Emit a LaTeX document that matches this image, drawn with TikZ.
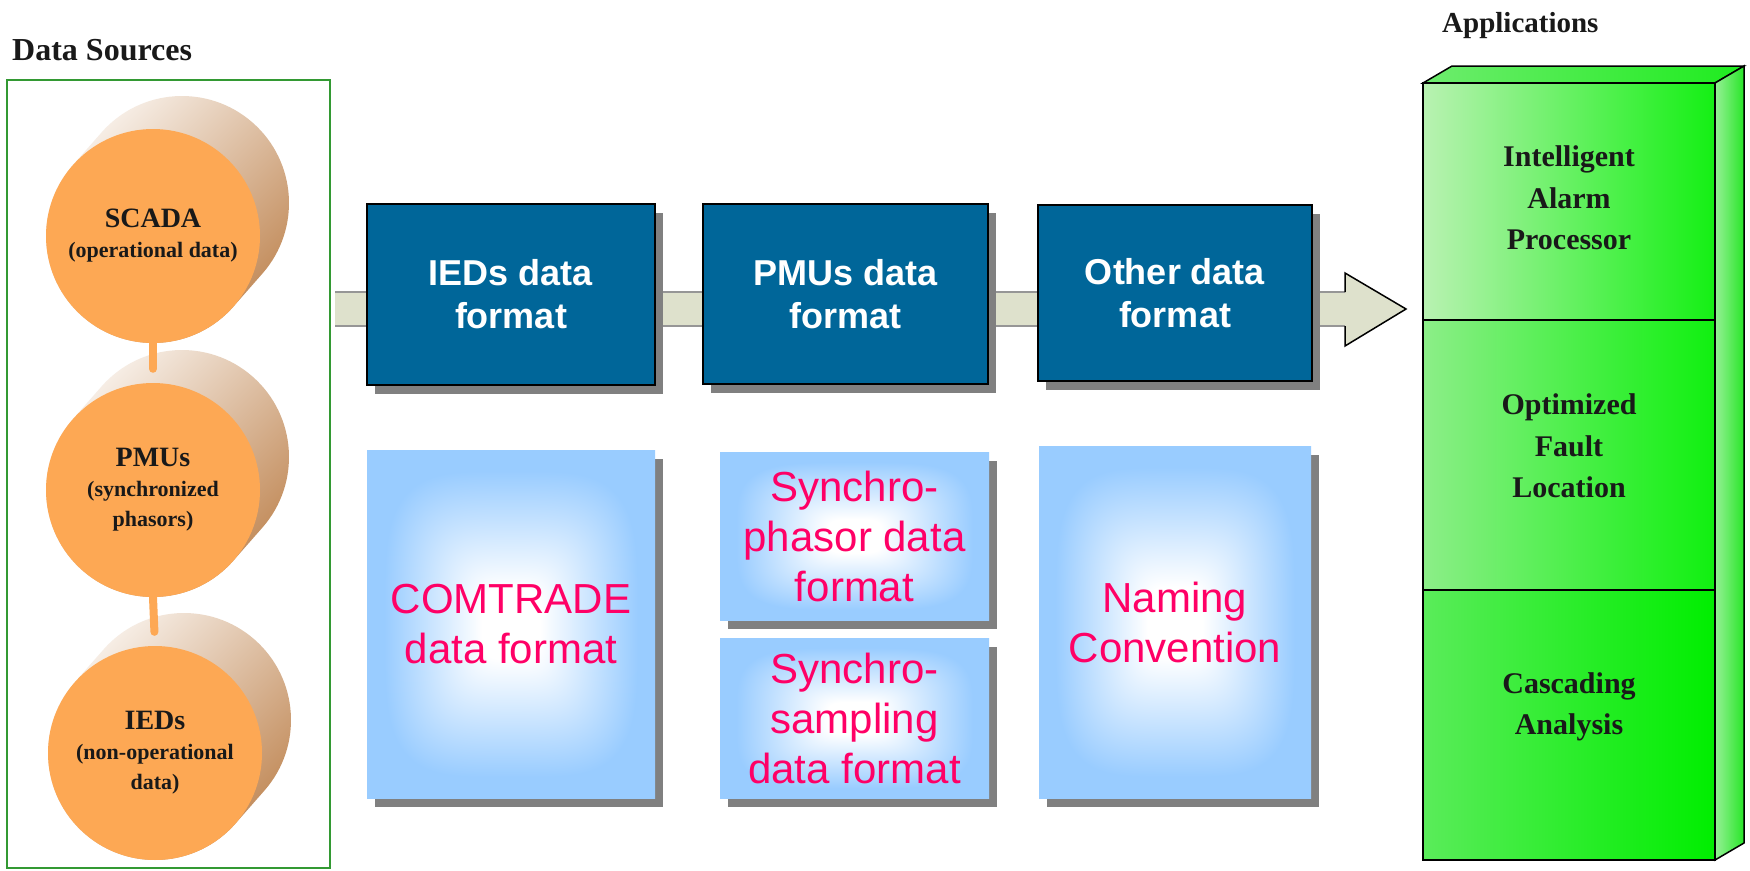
\documentclass[tikz,border=0pt]{standalone}
\usepackage{fontspec}
\setmainfont{Liberation Serif}
\newfontfamily\arialf{Liberation Sans}
\usetikzlibrary{shadows,calc}
\definecolor{dsgreen}{RGB}{51,153,51}
\definecolor{orangec}{RGB}{253,168,84}
\definecolor{cylL}{RGB}{252,248,244}
\definecolor{cylR}{RGB}{190,132,80}
\definecolor{dblue}{RGB}{0,102,153}
\definecolor{lblue}{RGB}{153,204,255}
\definecolor{pinkt}{RGB}{255,0,102}
\definecolor{bandc}{RGB}{222,225,204}
\definecolor{bandedge}{RGB}{150,150,150}
\definecolor{shadowc}{RGB}{128,128,128}
\definecolor{textdark}{RGB}{25,25,25}
\definecolor{sOneL}{RGB}{185,242,178}
\definecolor{sOneR}{RGB}{20,240,20}
\definecolor{sTwoL}{RGB}{140,238,136}
\definecolor{sTwoR}{RGB}{16,240,16}
\definecolor{sThreeL}{RGB}{90,236,90}
\definecolor{sThreeR}{RGB}{0,238,0}
\definecolor{topL}{RGB}{110,236,110}
\definecolor{topR}{RGB}{30,236,30}
\definecolor{sideL}{RGB}{150,240,150}
\definecolor{sideR}{RGB}{40,230,40}
% soft rectangular white-to-blue gradient (box edges lie at +-25bp), 4-norm
\pgfdeclarefunctionalshading{lbshade}{\pgfpoint{-50bp}{-50bp}}{\pgfpoint{50bp}{50bp}}{}{
  25 div dup mul dup mul exch 25 div dup mul dup mul add sqrt sqrt
  0.2 sub 0.68 div
  dup 0 lt {pop 0} if dup 1 gt {pop 1} if
  dup 0.4 mul 1 exch sub exch 0.2 mul 1 exch sub 1
}
\newcommand\cylback[1]{\shade[top color=cylL, bottom color=cylR, shading angle=45]
  ($(#1)+(29,-33)+(41.3:107)$) arc[start angle=41.3, end angle=-138.7, radius=107]
  -- ($(#1)+(221.3:107)$) arc[start angle=221.3, end angle=41.3, radius=107] -- cycle;}
\begin{document}
\begin{tikzpicture}[x=1pt,y=-1pt,
  dsframe/.style={rectangle, draw=dsgreen, line width=2, inner sep=0},
  disk/.style={circle, fill=orangec, minimum size=214, inner sep=0, align=center, text=textdark,
    font=\bfseries\fontsize{22}{30}\selectfont},
  bar/.style={draw=orangec, line width=8, line cap=round},
  dbox/.style={rectangle, fill=dblue, draw=black, line width=1.5, text=white, align=center, inner sep=0,
    font=\arialf\bfseries\fontsize{36}{43}\selectfont,
    general shadow={fill=shadowc, shadow xshift=8pt, shadow yshift=-9pt}},
  lbox/.style={rectangle, shade, shading=lbshade, text=pinkt, align=center, inner sep=0,
    font=\arialf\fontsize{42}{50}\selectfont,
    general shadow={fill=shadowc, shadow xshift=8pt, shadow yshift=-9pt}},
  sec/.style={rectangle, draw=black, line width=1.5, minimum width=292, inner sep=0},
  apptext/.style={align=center, text=textdark, font=\bfseries\fontsize{30}{41.5}\selectfont},
  title/.style={anchor=base west, text=textdark, inner sep=0, font=\bfseries\fontsize{32}{38}\selectfont}
]
\useasboundingbox[fill=white] (0,0) rectangle (1750,870);

% ---------- Data sources ----------
\node[title] (dstitle) at (12,60) {Data Sources};
\node[dsframe, minimum width=323, minimum height=788] (dsbox) at (168.5,474) {};

\coordinate (c1) at (153,236);
\coordinate (c2) at (153,490);
\coordinate (c3) at (155,753);
\cylback{c1}
\cylback{c2}
\cylback{c3}

\node[disk] (scada) at (c1) {{\fontsize{28}{30}\selectfont SCADA}\\(operational data)};
\node[disk] (pmus) at (c2) {{\fontsize{28}{30}\selectfont PMUs}\\(synchronized\\phasors)};
\node[disk] (ieds) at (c3) {{\fontsize{28}{30}\selectfont IEDs}\\(non-operational\\data)};
\draw[bar, shorten >=14] (scada.south) -- (pmus.north);
\draw[bar, shorten >=14] (pmus.south) -- (ieds.north);

% ---------- block arrow ----------
\coordinate (aS) at (335,309);
\coordinate (aH) at (1345,309);
\coordinate (aT) at (1406,309);
\fill[bandc] ($(aS)+(0,-17)$) -- ($(aH)+(0,-17)$) -- ($(aH)+(0,-36)$) -- (aT)
  -- ($(aH)+(0,37)$) -- ($(aH)+(0,17)$) -- ($(aS)+(0,17)$) -- cycle;
\draw[bandedge, line width=1.5] ($(aS)+(0,-17)$) -- ($(aH)+(0,-17)$)
  ($(aS)+(0,17)$) -- ($(aH)+(0,17)$);
\draw[black, line width=1.5] ($(aH)+(0,-17)$) -- ($(aH)+(0,-36)$) -- (aT)
  -- ($(aH)+(0,37)$) -- ($(aH)+(0,17)$);

% ---------- dark format boxes ----------
\node[dbox, minimum width=288, minimum height=181] (iedfmt) at (511,294.5) {IEDs data\\format};
\node[dbox, minimum width=285, minimum height=180] (pmufmt) at (845.5,294) {PMUs data\\format};
\node[dbox, minimum width=274, minimum height=176] (othfmt) at (1175,293) {Other data\\format};

% ---------- light boxes ----------
\node[lbox, minimum width=288, minimum height=348] (comtrade) at (511,624) {COMTRADE\\data format};
\node[lbox, minimum width=269, minimum height=168] (sphasor) at (854.5,536) {Synchro-\\phasor data\\format};
\node[lbox, minimum width=269, minimum height=160] (ssampling) at (854.5,718) {Synchro-\\sampling\\data format};
\node[lbox, minimum width=272, minimum height=352] (naming) at (1175,622) {Naming\\Convention};

% ---------- applications ----------
\node[title] (apptitle) at (1442,32) {\fontsize{29}{34}\selectfont Applications};
\shade[left color=topL, right color=topR, draw=black, line width=1.5]
  (1423,83) -- (1452,66) -- (1744,66) -- (1715,83) -- cycle;
\shade[left color=sideL, right color=sideR, draw=black, line width=1.5]
  (1715,83) -- (1744,66) -- (1744,843) -- (1715,860) -- cycle;
\node[sec, left color=sOneL, right color=sOneR, minimum height=237] (sec1) at (1569,201.5) {};
\node[sec, left color=sTwoL, right color=sTwoR, minimum height=270] (sec2) at (1569,455) {};
\node[sec, left color=sThreeL, right color=sThreeR, minimum height=270] (sec3) at (1569,725) {};
\node[apptext] (app1) at (1569,198) {Intelligent\\Alarm\\Processor};
\node[apptext] (app2) at (1569,446) {Optimized\\Fault\\Location};
\node[apptext] (app3) at (1569,707) {Cascading\\Analysis};
\end{tikzpicture}
\end{document}
